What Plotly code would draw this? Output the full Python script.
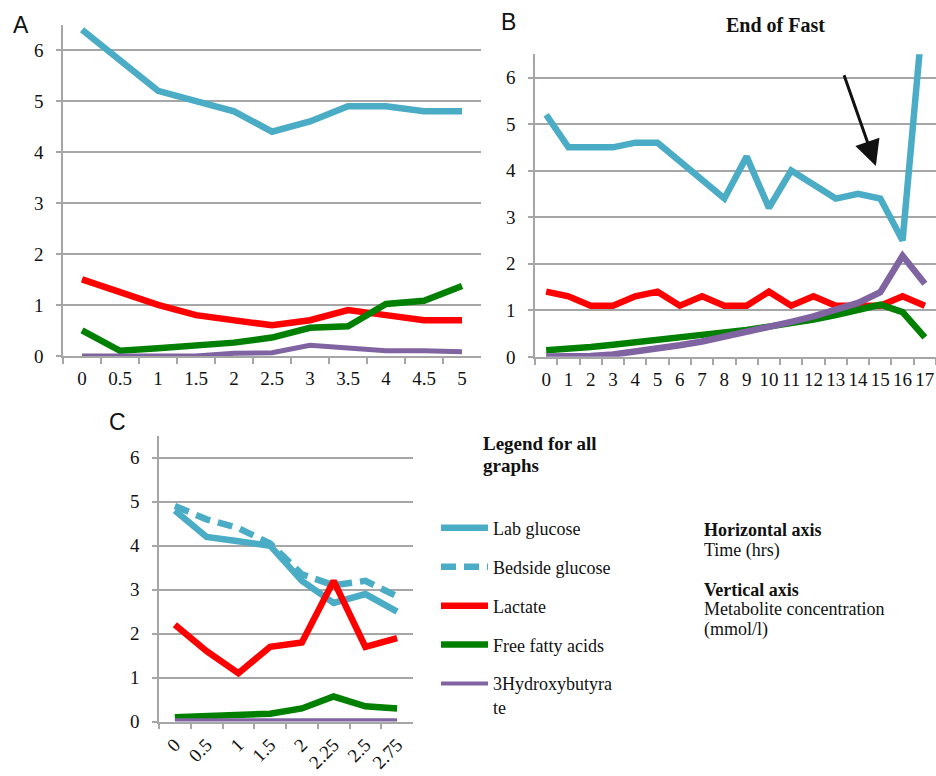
import plotly.graph_objects as go

W, H = 936, 776
SERIF = "Liberation Serif"
SANS = "Liberation Sans"

BLUE = "#4bacc6"
RED = "#ff0000"
GREEN = "#008000"
PURPLE = "#8064a2"
GRID = "#a6a6a6"

# ---- Panel A: first 5 hours ----
a_time = ["0", "0.5", "1", "1.5", "2", "2.5", "3", "3.5", "4", "4.5", "5"]
a_lab_glucose = [6.4, 5.8, 5.2, 5.0, 4.8, 4.4, 4.6, 4.9, 4.9, 4.8, 4.8]
a_lactate = [1.5, 1.25, 1.0, 0.8, 0.7, 0.6, 0.7, 0.9, 0.8, 0.7, 0.7]
a_ffa = [0.5, 0.1, 0.15, 0.2, 0.26, 0.36, 0.55, 0.58, 1.02, 1.08, 1.37]
a_3hb = [0.0, 0.0, 0.0, 0.0, 0.05, 0.06, 0.21, 0.16, 0.1, 0.1, 0.08]

# ---- Panel B: prolonged fast, 0-17 hours ----
b_time = ["0", "1", "2", "3", "4", "5", "6", "7", "8", "9", "10", "11", "12",
          "13", "14", "15", "16", "17"]
b_lab_glucose = [5.2, 4.5, 4.5, 4.5, 4.6, 4.6, 4.2, 3.8, 3.4, 4.3, 3.2, 4.0,
                 3.7, 3.4, 3.5, 3.4, 2.5, 7.8]
b_lactate = [1.4, 1.3, 1.1, 1.1, 1.3, 1.4, 1.1, 1.3, 1.1, 1.1, 1.4, 1.1, 1.3,
             1.1, 1.1, 1.1, 1.3, 1.1]
b_ffa = [0.14, 0.16, 0.21, 0.26, 0.31, 0.36, 0.41, 0.46, 0.52, 0.58, 0.65,
         0.72, 0.8, 0.9, 1.02, 1.12, 0.96, 0.42]
b_3hb = [0.01, 0.01, 0.02, 0.05, 0.11, 0.18, 0.25, 0.33, 0.43, 0.54, 0.64,
         0.75, 0.87, 1.01, 1.16, 1.39, 2.17, 1.57]

# ---- Panel C: 0-2.75 hours ----
c_time = ["0", "0.5", "1", "1.5", "2", "2.25", "2.5", "2.75"]
c_lab_glucose = [4.8, 4.2, 4.1, 4.0, 3.2, 2.7, 2.9, 2.5]
c_bedside_glucose = [4.9, 4.6, 4.4, 4.05, 3.35, 3.1, 3.2, 2.85]
c_lactate = [2.2, 1.6, 1.1, 1.7, 1.8, 3.2, 1.7, 1.9]
c_ffa = [0.1, 0.13, 0.15, 0.18, 0.3, 0.57, 0.35, 0.3]
c_3hb = [0.03, 0.03, 0.03, 0.03, 0.03, 0.03, 0.03, 0.03]

Y_MAX = 6.5
LW = 6.5


def fx(p):
    return p / W


def fy(p):
    return 1 - p / H


fig = go.Figure()


def add(x, y, name, color, width, xa, ya, show=False, dash="solid", rank=1):
    fig.add_trace(go.Scatter(
        x=x, y=y, name=name, mode="lines",
        line=dict(color=color, width=width, dash=dash),
        xaxis=xa, yaxis=ya, legendgroup=name, showlegend=show,
        legendrank=rank, hoverinfo="skip"))


# panel A
add(a_time, a_lab_glucose, "Lab glucose", BLUE, LW, "x", "y", True, rank=1)
add(a_time, a_lactate, "Lactate", RED, LW, "x", "y", True, rank=3)
add(a_time, a_ffa, "Free fatty acids", GREEN, LW, "x", "y", True, rank=4)
add(a_time, a_3hb, "3Hydroxybutyra<br>te", PURPLE, 5, "x", "y")

# panel B
add(b_time, b_lab_glucose, "Lab glucose", BLUE, LW, "x2", "y2")
add(b_time, b_lactate, "Lactate", RED, LW, "x2", "y2")
add(b_time, b_ffa, "Free fatty acids", GREEN, LW, "x2", "y2")
add(b_time, b_3hb, "3Hydroxybutyra<br>te", PURPLE, LW, "x2", "y2")

# panel C
add(c_time, c_lab_glucose, "Lab glucose", BLUE, LW, "x3", "y3")
add(c_time, c_bedside_glucose, "Bedside glucose", BLUE, LW, "x3", "y3", True,
    dash="15px,8px", rank=2)
add(c_time, c_lactate, "Lactate", RED, LW, "x3", "y3")
add(c_time, c_ffa, "Free fatty acids", GREEN, LW, "x3", "y3")
add(c_time, c_3hb, "3Hydroxybutyra<br>te", PURPLE, 4, "x3", "y3", True, rank=5)

tick_font = dict(family=SERIF, size=19, color="#111")


def xaxis(domain, anchor, n, angle=0, standoff=5):
    return dict(domain=domain, anchor=anchor, type="category",
                range=[-0.5, n - 0.5], tickmode="linear", tick0=0, dtick=1,
                showline=True, linecolor=GRID,
                linewidth=1.5, ticks="outside", ticklen=6, tickcolor=GRID,
                tickwidth=1.5, tickson="boundaries", showgrid=False,
                zeroline=False, tickfont=tick_font, tickangle=angle,
                ticklabelstandoff=standoff, fixedrange=True)


def yaxis(domain, anchor):
    return dict(domain=domain, anchor=anchor, range=[0, Y_MAX], dtick=1,
                tick0=0, showline=True, linecolor=GRID, linewidth=1.5,
                ticks="outside", ticklen=5, tickcolor=GRID, tickwidth=1.5,
                showgrid=True, gridcolor=GRID, gridwidth=1.5, zeroline=False,
                tickfont=tick_font, ticklabelstandoff=9, fixedrange=True)


fig.update_layout(
    width=W, height=H, autosize=False,
    margin=dict(l=0, r=0, t=0, b=0),
    paper_bgcolor="white", plot_bgcolor="white",
    xaxis=xaxis([fx(63), fx(481)], "y", len(a_time)),
    yaxis=yaxis([fy(361), fy(25)], "x"),
    xaxis2=xaxis([fx(535), 1.0], "y2", len(b_time)),
    yaxis2=yaxis([fy(362), fy(55)], "x2"),
    xaxis3=xaxis([fx(159), fx(413)], "y3", len(c_time), angle=-45,
                 standoff=3),
    yaxis3=yaxis([fy(732), fy(442)], "x3"),
    legend=dict(x=fx(436), y=fy(517), xanchor="left", yanchor="top",
                font=dict(family=SERIF, size=18, color="#111"),
                itemwidth=47,
                tracegroupgap=12.5, bgcolor="rgba(0,0,0,0)",
                traceorder="grouped", valign="top"),
    showlegend=True,
)

annotations = [
    dict(text="A", x=fx(11), y=fy(25), font=dict(family=SANS, size=23)),
    dict(text="B", x=fx(499), y=fy(22), font=dict(family=SANS, size=23)),
    dict(text="C", x=fx(107), y=fy(428), font=dict(family=SANS, size=23)),
    dict(text="<b>End of Fast</b>", x=fx(724), y=fy(25),
         font=dict(family=SERIF, size=20)),
    dict(text="<b>Legend for all</b>", x=fx(481), y=fy(450),
         font=dict(family=SERIF, size=19)),
    dict(text="<b>graphs</b>", x=fx(481), y=fy(472),
         font=dict(family=SERIF, size=19)),
    dict(text="<b>Horizontal axis</b>", x=fx(702), y=fy(538),
         font=dict(family=SERIF, size=18)),
    dict(text="Time (hrs)", x=fx(702), y=fy(558),
         font=dict(family=SERIF, size=18)),
    dict(text="<b>Vertical axis</b>", x=fx(702), y=fy(598),
         font=dict(family=SERIF, size=18)),
    dict(text="Metabolite concentration", x=fx(702), y=fy(618),
         font=dict(family=SERIF, size=18)),
    dict(text="(mmol/l)", x=fx(702), y=fy(639),
         font=dict(family=SERIF, size=18)),
]
for a in annotations:
    a.update(xref="paper", yref="paper", xanchor="left", yanchor="middle",
             showarrow=False)
    a["font"]["color"] = "#111"

# arrow pointing at the end of the fast (panel B)
annotations.append(dict(
    xref="x2", yref="y2", axref="x2", ayref="y2",
    x=14.8, y=4.1, ax=13.35, ay=6.08, text="", showarrow=True,
    arrowhead=2, arrowsize=1.7, arrowwidth=3, arrowcolor="#111"))

fig.update_layout(annotations=annotations)

fig.write_html("out.html")
